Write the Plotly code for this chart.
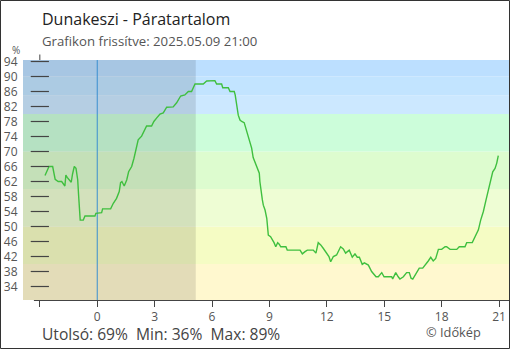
import plotly.graph_objects as go

# ---- data ----
hours = [-2.73, -2.52, -2.33, -2.26, -2.20, -2.04, -1.86, -1.69, -1.64, -1.57, -1.43, -1.36, -1.29, -1.20, -1.11,
         -1.02, -0.97, -0.94, -0.89, -0.73, -0.64, -0.12, -0.07, 0.23, 0.28, 0.70, 0.84, 1.01, 1.15, 1.22,
         1.29, 1.41, 1.54, 1.64, 1.80, 1.92, 2.02, 2.14, 2.32, 2.49, 2.58, 2.84, 2.96, 3.10, 3.28,
         3.45, 3.63, 3.97, 4.15, 4.36, 4.58, 4.76, 4.93, 5.11, 5.54, 5.72, 6.15, 6.24, 6.50, 6.56,
         6.85, 6.94, 7.16, 7.21, 7.29, 7.37, 7.46, 7.55, 7.68, 7.77, 7.89, 7.98, 8.07, 8.15, 8.24,
         8.36, 8.47, 8.50, 8.56, 8.63, 8.68, 8.77, 8.86, 8.91, 8.94, 9.06, 9.17, 9.24, 9.33, 9.43,
         9.51, 9.59, 9.86, 9.93, 10.60, 10.72, 10.86, 10.98, 11.29, 11.43, 11.55, 11.68, 11.81, 11.99, 12.11,
         12.20, 12.34, 12.51, 12.72, 12.86, 12.98, 13.17, 13.33, 13.47, 13.59, 13.70, 13.85, 13.96, 14.17, 14.34,
         14.57, 14.69, 14.87, 14.99, 15.39, 15.44, 15.60, 15.73, 15.82, 16.00, 16.17, 16.31, 16.40, 16.49, 16.66,
         16.83, 17.01, 17.18, 17.30, 17.43, 17.56, 17.69, 17.83, 18.00, 18.18, 18.26, 18.44, 18.79, 18.92, 19.22,
         19.31, 19.60, 19.74, 19.92, 20.04, 20.18, 20.32, 20.44, 20.56, 20.67, 20.79, 20.88, 20.96]
humidity = [63.6, 66, 66, 64.2, 62.6, 62, 62, 60.8, 63.7, 63.1, 62.4, 61.8, 64, 66, 65.5,
            62.4, 58, 53.7, 51.7, 51.7, 52.8, 52.8, 53.5, 53.7, 54.7, 54.7, 56.2, 57.5, 59.3, 61.7,
            62, 60.8, 62.4, 64.6, 66, 68.2, 70.4, 73.1, 74.1, 75.9, 76.8, 76.8, 78, 78.9, 80,
            80.3, 81.8, 81.9, 83, 84.8, 85.1, 86, 86, 88, 88, 88.8, 88.9, 88, 88, 87,
            87, 86, 86, 85.1, 82.9, 79.7, 78.4, 78, 77.7, 76.2, 74.4, 72.6, 70.9, 68.4, 67.3,
            66, 64.2, 62, 59.3, 57.1, 55.7, 54.4, 52.2, 49.5, 47.7, 47.3, 46.4, 45.7, 44.6, 45.7,
            45.3, 44.6, 44.6, 43.7, 43.7, 42.7, 43.3, 43.7, 43.7, 42.9, 45.7, 45.1, 44.2, 43, 42,
            40.6, 42, 42.4, 44.6, 44, 42.9, 43.7, 41.8, 42.7, 41.8, 41.8, 39.9, 40.3, 39.7, 38,
            36.6, 36.6, 37.7, 36.6, 36.6, 36, 37.7, 36.6, 36, 36.6, 37.7, 37.7, 36.2, 36, 37.3,
            38.9, 38.9, 39.9, 40.8, 41.8, 40.8, 41.5, 43.9, 43.9, 44.6, 44.6, 43.9, 43.9, 44.6, 44.6,
            45.7, 45.7, 47.3, 49.1, 51.7, 54, 57.1, 59.7, 62.6, 64.6, 65.5, 66.9, 68.9]

x_tick_vals = [-3, 0, 3, 6, 9, 12, 15, 18, 21]
x_tick_text = ["", "0", "3", "6", "9", "12", "15", "18", "21"]
y_tick_vals = [34, 38, 42, 46, 50, 54, 58, 62, 66, 70, 74, 78, 82, 86, 90, 94]

band_edges = [30.4, 40, 50, 60, 70, 80, 85, 90, 94.4]
band_colors = ["#fff8cf", "#f5fcc4", "#eefdd4", "#ddfccf", "#ccfdda", "#cce8ff", "#c2e4ff", "#bcdfff"]

night_start, night_end = -3.88, 5.15
midnight = 0

title = "Dunakeszi - Páratartalom"
subtitle = "Grafikon frissítve: 2025.05.09 21:00"
stats = "Utolsó: 69%\u00a0\u00a0Min: 36%\u00a0\u00a0Max: 89%"
credit = "© Időkép"

# ---- layout geometry ----
W, H = 510, 350
L, R, T, B = 23, 1, 60, 50
PW, PH = W - L - R, H - T - B
XR = [-3.88, 21.52]
YR = [30.4, 94.4]


def px(xp):
    return (xp - L) / PW


def py(yp):
    return (H - B - yp) / PH


FONT = "Open Sans"

fig = go.Figure()

fig.add_trace(go.Scatter(x=hours, y=humidity, mode="lines",
                         line=dict(color="#3fbf3f", width=1.4), hoverinfo="skip"))
# y-axis tick dashes (centered on the axis)
fig.add_trace(go.Scatter(x=[-3] * len(y_tick_vals), y=y_tick_vals, mode="markers",
                         marker=dict(symbol="line-ew", size=13, line=dict(color="#444", width=1.2)),
                         hoverinfo="skip", cliponaxis=False))

shapes = []
for i, c in enumerate(band_colors):
    shapes.append(dict(type="rect", xref="paper", yref="y", x0=0, x1=1,
                       y0=band_edges[i], y1=band_edges[i + 1], fillcolor=c,
                       line=dict(width=0), layer="below"))
shapes.append(dict(type="rect", xref="x", yref="paper", x0=night_start, x1=night_end, y0=0, y1=1,
                   fillcolor="rgba(0,0,0,0.11)", line=dict(width=0), layer="below"))
shapes.append(dict(type="line", xref="x", yref="paper", x0=midnight, x1=midnight, y0=0, y1=1,
                   line=dict(color="#3a8fd0", width=1), layer="below"))
# x axis line
shapes.append(dict(type="line", xref="x", yref="paper", x0=-3.31, x1=XR[1], y0=py(300.5), y1=py(300.5),
                   line=dict(color="#444", width=1)))
# y axis stub above plot
shapes.append(dict(type="line", xref="x", yref="paper", x0=-3, x1=-3, y0=1, y1=py(54.5),
                   line=dict(color="#444", width=1)))
# outer frame
shapes.append(dict(type="rect", xref="paper", yref="paper", x0=px(0.5), x1=px(509.5),
                   y0=py(348.5), y1=py(0.5), line=dict(color="#333", width=1), fillcolor="rgba(0,0,0,0)"))

annotations = [
    dict(text=title, x=px(40), y=py(18.5), xanchor="left", yanchor="middle",
         font=dict(family=FONT, size=16, color="#222")),
    dict(text=subtitle, x=px(40), y=py(41), xanchor="left", yanchor="middle",
         font=dict(family=FONT, size=13.2, color="#555")),
    dict(text="%", x=px(22), y=py(49.5), xanchor="right", yanchor="middle",
         font=dict(family=FONT, size=10, color="#555")),
    dict(text=stats, x=px(40), y=py(333.5), xanchor="left", yanchor="middle",
         font=dict(family=FONT, size=15.6, color="#444")),
    dict(text=credit, x=px(424), y=py(332), xanchor="left", yanchor="middle",
         font=dict(family=FONT, size=12.8, color="#555")),
]
for a in annotations:
    a.update(xref="paper", yref="paper", showarrow=False)

fig.update_layout(
    width=W, height=H, margin=dict(l=L, r=R, t=T, b=B),
    paper_bgcolor="white", plot_bgcolor="white", showlegend=False,
    shapes=shapes, annotations=annotations,
    xaxis=dict(range=XR, tickvals=x_tick_vals, ticktext=x_tick_text, ticks="outside",
               ticklen=6, tickcolor="#444", tickwidth=1, showgrid=False, zeroline=False,
               showline=False, tickfont=dict(family=FONT, size=12, color="#555"), fixedrange=True),
    yaxis=dict(range=YR, tickvals=y_tick_vals, ticks="outside", ticklen=20, tickcolor="rgba(0,0,0,0)",
               anchor="free", position=px(40), showgrid=False, zeroline=False, showline=False,
               tickfont=dict(family=FONT, size=12, color="#555"), fixedrange=True),
)

fig.write_html("out.html", config={"displayModeBar": False})
